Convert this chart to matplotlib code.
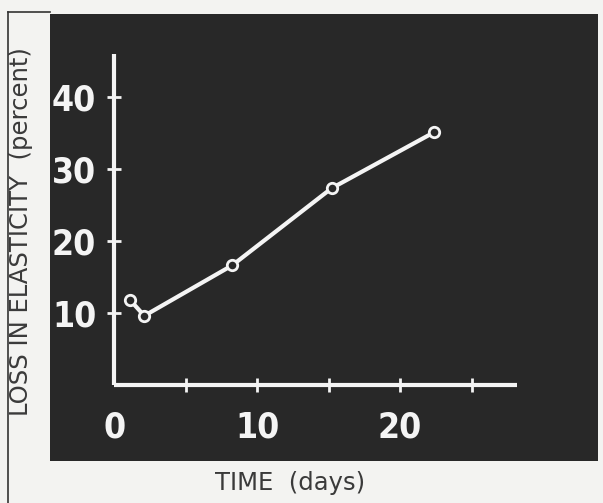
import numpy as np
import matplotlib
matplotlib.use("Agg")
import matplotlib.pyplot as plt
from matplotlib.lines import Line2D

# valores
dias = [1.1, 2.1, 8.25, 15.2, 22.4]
perdida = [11.8, 9.6, 16.6, 27.3, 35.1]

xticks_lab = [0, 10, 20]
xticks_marca = [5, 10, 15, 20, 25]
yticks = [10, 20, 30, 40]

fondo = '#282828'
blanco = '#f4f4f4'

fig = plt.figure(figsize=(6.03, 5.03), dpi=100)
fig.patch.set_facecolor('#f3f3f1')

ax = fig.add_axes([50/603, 1-461/503, 548/603, 447/503])
ax.set_facecolor(fondo)
ax.set_xlim(-4.5, 33.85)
ax.set_ylim(-10.56, 51.5)

ax.plot(dias, perdida, color=blanco, lw=3, marker='o', ms=7.5,
        mfc=fondo, mec=blanco, mew=2, solid_capstyle='round', zorder=3)

# ejes blancos en el origen
for lado in ['top', 'right']:
	ax.spines[lado].set_visible(False)
ax.spines['left'].set_position(('data', 0))
ax.spines['bottom'].set_position(('data', 0))
ax.spines['left'].set_bounds(0, 46)
ax.spines['bottom'].set_bounds(0, 28.2)
for lado in ['left', 'bottom']:
	ax.spines[lado].set_color(blanco)
	ax.spines[lado].set_linewidth(3)
	ax.spines[lado].set_capstyle('butt')

ax.xaxis.remove_overlapping_locs = False
ax.yaxis.remove_overlapping_locs = False
ax.set_xticks(xticks_lab)
ax.set_xticklabels([str(v) for v in xticks_lab])
ax.set_xticks(xticks_marca, minor=True)
ax.set_yticks(yticks)
ax.set_yticklabels([str(v) for v in yticks])
ax.tick_params(axis='x', which='major', length=0, pad=18.5)
ax.tick_params(axis='y', which='major', direction='inout', length=10, width=2, color=blanco, pad=8)
ax.tick_params(axis='x', which='minor', direction='inout', length=10, width=2, color=blanco)
for t in ax.get_xticklabels() + ax.get_yticklabels():
	t.set_family('DejaVu Sans')
	t.set_fontstretch('condensed')
	t.set_fontweight('bold')
	t.set_fontsize(25.5)
	t.set_color(blanco)

# marco del papel
fig.add_artist(Line2D([8/603, 8/603], [0, 1-12/503], color='#333333', lw=1.2))
fig.add_artist(Line2D([8/603, 50/603], [1-12/503, 1-12/503], color='#333333', lw=1.2))

fig.text(21/603, 1-232/503, 'LOSS IN ELASTICITY  (percent)', rotation=90,
         ha='center', va='center', fontsize=17.5, color='#3a3a3a', family='DejaVu Sans')
fig.text(290/603, 1-483/503, 'TIME  (days)', ha='center', va='center',
         fontsize=17.5, color='#3a3a3a', family='DejaVu Sans')

fig.savefig('out.png', dpi=100, facecolor=fig.get_facecolor())
